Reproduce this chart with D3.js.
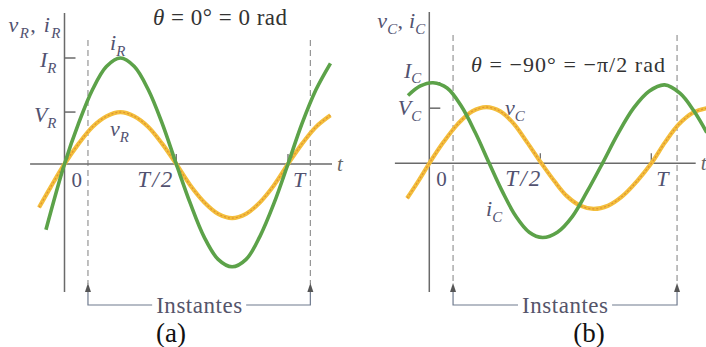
<!DOCTYPE html>
<html><head><meta charset="utf-8">
<script src="https://cdn.jsdelivr.net/npm/d3@7"></script>
</head><body style="margin:0;background:#fff">
<svg id="chart" width="706" height="347" style="display:block"></svg>
<script>
// ---- (a) resistor: time in periods (t/T), values in units of I_R ----
const tRes = [-0.083, 0, 0.0625, 0.125, 0.1875, 0.25, 0.3125, 0.375, 0.4375, 0.5,
              0.5625, 0.625, 0.6875, 0.75, 0.8125, 0.875, 0.9375, 1.0, 1.0625, 1.125, 1.19];
const iRes = [-0.62, 0, 0.38, 0.70, 0.92, 1.00, 0.92, 0.70, 0.38, 0,
              -0.37, -0.69, -0.90, -0.97, -0.90, -0.68, -0.37, 0, 0.38, 0.70, 0.95];
const tResV = [-0.114, -0.0625, 0, 0.0625, 0.125, 0.1875, 0.25, 0.3125, 0.375, 0.4375, 0.5,
               0.5625, 0.625, 0.6875, 0.75, 0.8125, 0.875, 0.9375, 1.0, 1.0625, 1.125, 1.19];
const vRes = [-0.41, -0.22, 0, 0.19, 0.35, 0.45, 0.49, 0.45, 0.35, 0.19, 0,
              -0.20, -0.36, -0.47, -0.51, -0.47, -0.36, -0.20, 0, 0.19, 0.35, 0.46];

// ---- (b) capacitor ----
const tCapI = [-0.096, -0.04, 0.017, 0.08, 0.144, 0.207, 0.27, 0.33, 0.39, 0.45, 0.51,
               0.577, 0.645, 0.71, 0.78, 0.85, 0.92, 0.99, 1.06, 1.13, 1.19, 1.25];
const iCap = [0.64, 0.73, 0.76, 0.71, 0.54, 0.29, 0, -0.27, -0.50, -0.65, -0.70,
              -0.65, -0.50, -0.27, 0, 0.28, 0.52, 0.68, 0.74, 0.66, 0.50, 0.29];
const tCapV = [-0.1, -0.05, 0, 0.064, 0.128, 0.193, 0.257, 0.32, 0.38, 0.44, 0.505,
               0.564, 0.62, 0.68, 0.74, 0.805, 0.87, 0.935, 1.0, 1.0625, 1.125, 1.19, 1.25];
const vCap = [-0.33, -0.17, 0, 0.20, 0.37, 0.49, 0.53, 0.49, 0.375, 0.20, 0,
              -0.17, -0.31, -0.40, -0.43, -0.40, -0.31, -0.17, 0, 0.20, 0.37, 0.48, 0.52];

// amplitude marks on the vertical axes
const ampRes = [1.00, 0.49];   // I_R, V_R
const ampCap = [0.76, 0.52];   // I_C, V_C

// time marks and the two instants bracketed below each plot
const timeTicks = [0.5, 1];
const timeTickLabels = ["T/2", "T"];
const instantsRes = [0.105, 1.10];
const instantsCap = [0.107, 1.116];

const titleRes = "θ = 0° = 0 rad";
const titleCap = "θ = −90° = −π/2 rad";
const bracketText = "Instantes";

const FONT = "Liberation Serif";
const GREEN = "#5ca249";
const GOLD = "#f3be3c";
const GOLD_DASH = "#d9802c";
const AXIS = "#6a6a6a";
const LABEL = "#525270";

const svg = d3.select("#chart");

// text helper; an optional width spreads the glyphs like the wide book face
function txt(x, y, size, width) {
  const t = svg.append("text").attr("x", x).attr("y", y)
    .attr("font-family", FONT).attr("font-size", size);
  if (width) t.attr("textLength", width).attr("lengthAdjust", "spacing");
  return t;
}

function sub(sel, main, s, size) {
  sel.append("tspan").text(main);
  sel.append("tspan").attr("font-size", size * 0.68).attr("dy", size * 0.25).text(s);
}

function panel(o) {
  const x = d3.scaleLinear().domain([0, 1]).range(o.xr);
  const y = d3.scaleLinear().domain([0, 1]).range(o.yr);
  const x0 = x(0), y0 = y(0);

  // dashed guides at the two instants
  o.instants.forEach(t => {
    svg.append("line").attr("x1", x(t)).attr("x2", x(t))
      .attr("y1", o.dashTop).attr("y2", 284)
      .attr("stroke", "#8c8c8c").attr("stroke-width", 1.1)
      .attr("stroke-dasharray", "6,4");
  });

  // axes
  svg.append("line").attr("x1", x(o.xDom[0])).attr("x2", x(o.xDom[1]))
    .attr("y1", y0).attr("y2", y0).attr("stroke", AXIS).attr("stroke-width", 1.5);
  svg.append("line").attr("x1", x0).attr("x2", x0)
    .attr("y1", o.axisTop).attr("y2", 292).attr("stroke", AXIS).attr("stroke-width", 1.5);

  // period ticks
  timeTicks.forEach(t => {
    svg.append("line").attr("x1", x(t)).attr("x2", x(t))
      .attr("y1", y0 - 10).attr("y2", y0).attr("stroke", AXIS).attr("stroke-width", 1.3);
  });
  // amplitude ticks
  o.amps.forEach(a => {
    svg.append("line").attr("x1", x0).attr("x2", x0 + 11)
      .attr("y1", y(a)).attr("y2", y(a)).attr("stroke", AXIS).attr("stroke-width", 1.5);
  });

  // curves
  const line = d3.line().x(d => x(d[0])).y(d => y(d[1])).curve(d3.curveCatmullRom.alpha(0.5));
  const vPts = d3.zip(o.tv, o.v), iPts = d3.zip(o.ti, o.i);
  svg.append("path").attr("d", line(vPts)).attr("fill", "none")
    .attr("stroke", GOLD).attr("stroke-width", 4.2);
  svg.append("path").attr("d", line(vPts)).attr("fill", "none")
    .attr("stroke", GOLD_DASH).attr("stroke-width", 1.2).attr("stroke-dasharray", "2,2")
    .attr("opacity", 0.7);
  svg.append("path").attr("d", line(iPts)).attr("fill", "none")
    .attr("stroke", GREEN).attr("stroke-width", 3.6);

  const fs = 21;
  // vertical axis title
  const yt = txt(x0 - 4, o.yTitleY, 22, o.yTitleW)
    .attr("text-anchor", "end").attr("fill", LABEL).attr("font-style", "italic");
  sub(yt, "v", o.sym, 22);
  yt.append("tspan").attr("dy", -22 * 0.25).attr("font-style", "normal").text(", ");
  sub(yt, "i", o.sym, 22);

  // amplitude labels
  const ampNames = ["I", "V"];
  o.amps.forEach((a, k) => {
    const tx = txt(x0 - 8, y(a) + o.ampDy[k], 22)
      .attr("text-anchor", "end").attr("fill", LABEL).attr("font-style", "italic");
    sub(tx, ampNames[k], o.sym, 22);
  });

  // curve labels
  const il = txt(o.iLab[0], o.iLab[1], 22).attr("fill", LABEL).attr("font-style", "italic");
  sub(il, "i", o.sym, 22);
  const vl = txt(o.vLab[0], o.vLab[1], 22).attr("fill", LABEL).attr("font-style", "italic");
  sub(vl, "v", o.sym, 22);

  // time labels
  txt(x0 + 7, y0 + 23, fs).attr("fill", LABEL).text("0");
  txt(x(timeTicks[0]) - o.halfGap - 35, y0 + 23, 23, 35)
    .attr("fill", LABEL).attr("font-style", "italic").text(timeTickLabels[0]);
  txt(x(timeTicks[1]) + 5, y0 + 23, 22)
    .attr("fill", LABEL).attr("font-style", "italic").text(timeTickLabels[1]);
  txt(x(o.xDom[1]) + 5, y0 + 7, fs)
    .attr("fill", "#666").attr("font-style", "italic").text("t");

  // phase title
  const tt = txt(o.title[0], o.title[1], o.titleSize, o.titleW).attr("fill", "#333");
  tt.append("tspan").attr("font-style", "italic").text(o.titleText[0]);
  tt.append("tspan").text(o.titleText.slice(1));

  // bracket marking the instants, with a gap for its caption
  const xa = x(o.instants[0]), xb = x(o.instants[1]);
  const by = 305, mid = (xa + xb) / 2, capW = 86, w = capW / 2 + 4;
  txt(mid - capW / 2, by + 8, 23, capW).attr("fill", "#55556a").text(bracketText);
  const bc = "#6f7a8e";
  svg.append("path").attr("d", `M${xa},291 L${xa},${by} L${mid - w},${by}`)
    .attr("fill", "none").attr("stroke", bc).attr("stroke-width", 1.2);
  svg.append("path").attr("d", `M${mid + w},${by} L${xb},${by} L${xb},291`)
    .attr("fill", "none").attr("stroke", bc).attr("stroke-width", 1.2);
  [xa, xb].forEach(xx => {
    svg.append("path").attr("d", `M${xx},283 L${xx - 3},292 L${xx + 3},292 Z`).attr("fill", "#555");
  });

  // panel letter
  txt(o.letter, 342, 27).attr("text-anchor", "middle").attr("fill", "#111").text(o.letterText);
}

panel({
  xr: [64.5, 288], yr: [164, 58], xDom: [-0.154, 1.197],
  axisTop: 13, dashTop: 40, halfGap: 4,
  ti: tRes, i: iRes, tv: tResV, v: vRes, amps: ampRes, ampDy: [9, 10],
  sym: "R", yTitleY: 32, yTitleW: 52, iLab: [110, 50], vLab: [110, 136],
  title: [153, 25], titleSize: 23, titleW: 134, titleText: titleRes,
  instants: instantsRes, letter: 171, letterText: "(a)"
});
panel({
  xr: [429.3, 651.3], yr: [163.3, 57.3], xDom: [-0.155, 1.20],
  axisTop: 12, dashTop: 35, halfGap: 0,
  ti: tCapI, i: iCap, tv: tCapV, v: vCap, amps: ampCap, ampDy: [-5, 7],
  sym: "C", yTitleY: 28, yTitleW: 48, iLab: [486, 216], vLab: [505, 115],
  title: [471, 72], titleSize: 22, titleW: 194, titleText: titleCap,
  instants: instantsCap, letter: 589, letterText: "(b)"
});
</script>
</body></html>
